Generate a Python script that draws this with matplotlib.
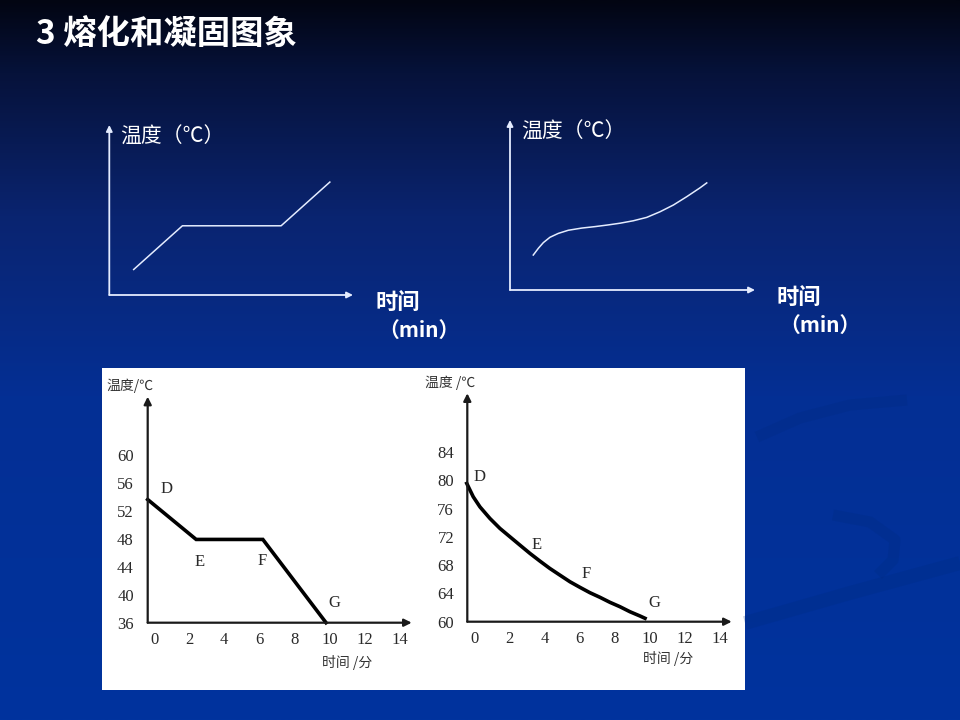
import matplotlib
matplotlib.use('Agg')
import matplotlib.pyplot as plt
import numpy as np
from matplotlib.patches import Rectangle

plt.rcParams['font.family'] = ['Noto Sans CJK SC', 'DejaVu Sans']

# ---- data ----
# top-left sketch: melting of a crystal (arbitrary units)
melt_t = [1.0, 3.0, 7.05, 9.05]
melt_T = [1.05, 2.85, 2.85, 4.65]

# top-right sketch: melting of an amorphous solid (arbitrary units)
amor_t = [0.95, 1.16, 1.36, 1.63, 1.97, 2.38, 2.93, 3.47, 4.01, 4.49, 5.03, 5.58, 6.12, 6.67, 7.21, 7.76, 8.03]
amor_T = [1.44, 1.72, 1.95, 2.17, 2.33, 2.46, 2.55, 2.61, 2.68, 2.75, 2.85, 2.99, 3.22, 3.50, 3.84, 4.21, 4.41]

# bottom-left: solidification, crystal
sol_t = [-0.36, 2.4, 6.2, 9.8]
sol_T = [53.6, 47.9, 47.9, 36.0]
sol_names = ['D', 'E', 'F', 'G']
sol_yticks = [36, 40, 44, 48, 52, 56, 60]

# bottom-right: solidification, amorphous
cool_t = [-0.43, -0.06, 0.32, 0.89, 1.46, 2.03, 2.60, 3.17, 3.74, 4.30, 4.87, 5.45,
          6.02, 6.59, 7.16, 7.73, 8.30, 8.87, 9.44, 9.73]
cool_T = [79.55, 77.66, 76.24, 74.60, 73.19, 72.01, 70.83, 69.66, 68.57, 67.54, 66.60, 65.65,
          64.86, 64.10, 63.45, 62.74, 62.12, 61.41, 60.81, 60.48]
cool_names = ['D', 'E', 'F', 'G']
cool_yticks = [60, 64, 68, 72, 76, 80, 84]

xticks = [0, 2, 4, 6, 8, 10, 12, 14]

# ---- figure and background ----
W, H = 960, 720
fig = plt.figure(figsize=(W / 100, H / 100), dpi=100)

bg = fig.add_axes([0, 0, 1, 1])
stops = np.array([0.0, 0.1, 0.3, 0.55, 1.0])
cols = np.array([[2, 5, 18], [6, 18, 58], [10, 36, 112], [4, 47, 148], [0, 51, 158]]) / 255
yy = np.linspace(0, 1, 400)
grad = np.stack([np.interp(yy, stops, cols[:, k]) for k in range(3)], axis=-1)
bg.imshow(grad[:, None, :], aspect='auto', extent=[0, W, H, 0])

# faint swooshes of the slide template
sw = dict(color='#00287a', alpha=0.22, solid_capstyle='butt')
bg.plot([757, 800, 850, 907], [437, 418, 405, 400], lw=8, **sw)
bg.plot([833, 870, 895, 893, 878], [515, 522, 540, 560, 575], lw=8, **sw)
bg.plot([745, 850, 960], [623, 593, 563], lw=10, **sw)
bg.set_xlim(0, W)
bg.set_ylim(H, 0)
bg.axis('off')

# white panel with the textbook charts
bg.add_patch(Rectangle((102, 368), 643, 322, facecolor='white', edgecolor='none'))


def px_axes(left, top, right, bottom):
    ax = fig.add_axes([left / W, 1 - bottom / H, (right - left) / W, (bottom - top) / H])
    ax.patch.set_alpha(0)
    for s in ax.spines.values():
        s.set_visible(False)
    return ax


def arrows(ax, color, lw, ms):
    kw = dict(arrowstyle='-|>', color=color, lw=lw, mutation_scale=ms, shrinkA=0, shrinkB=0)
    ax.annotate('', xy=(1, 0), xytext=(0, 0), xycoords='axes fraction', arrowprops=kw)
    ax.annotate('', xy=(0, 1), xytext=(0, 0), xycoords='axes fraction', arrowprops=kw)


def px_text(x, y, s, **kw):
    fig.text(x / W, 1 - y / H, s, **kw)


# title
px_text(36, 34, '3 熔化和凝固图象', fontsize=24, fontweight='bold', color='white', va='center')

# ---- top sketches ----
line_w = '#e4ecff'
ax1 = px_axes(109.3, 125, 353, 295)
ax1.plot(melt_t, melt_T, color=line_w, lw=1.1)
ax1.set_xlim(0, 10)
ax1.set_ylim(0, 7)
ax1.set_xticks([])
ax1.set_yticks([])
arrows(ax1, line_w, 1.3, 9)

ax2 = px_axes(510, 120, 755, 290)
ax2.plot(amor_t, amor_T, color=line_w, lw=1.1)
ax2.set_xlim(0, 10)
ax2.set_ylim(0, 7)
ax2.set_xticks([])
ax2.set_yticks([])
arrows(ax2, line_w, 1.3, 9)

for x0, y0 in [(120, 137), (521, 132)]:
    px_text(x0, y0, '温度（℃）', fontsize=15, color='white', va='center')
for cx, cy in [(398, 302), (799, 297)]:
    px_text(cx, cy, '时间', fontsize=16, fontweight='bold', color='white', va='center', ha='center')
for cx, cy in [(419, 330), (820, 325)]:
    px_text(cx, cy, '（min）', fontsize=15, fontweight='bold', color='white', va='center', ha='center')

# ---- bottom textbook charts ----
ink = '#1a1a1a'
tick_font = dict(family='Liberation Serif', size=12, color='#2a2a2a')

ax3 = px_axes(147.7, 396.7, 411.7, 622.7)
ax3.plot(sol_t, sol_T, color='black', lw=2.6, clip_on=False, solid_joinstyle='miter')
ax3.set_xlim(-0.36, 14.68)
ax3.set_ylim(36, 68.3)
sol_lab = [(0.72, 55.1), (2.62, 44.7), (6.14, 44.8), (10.27, 38.8)]
for name, (lx, ly) in zip(sol_names, sol_lab):
    ax3.text(lx, ly, name, ha='center', va='center', **tick_font)

ax4 = px_axes(467.3, 393.3, 731.7, 621.7)
ax4.plot(cool_t, cool_T, color='black', lw=2.6, clip_on=False)
ax4.set_xlim(-0.4, 14.67)
ax4.set_ylim(60, 92.3)
cool_lab = [(0.32, 80.5), (3.56, 70.8), (6.40, 66.8), (10.26, 62.7)]
for name, (lx, ly) in zip(cool_names, cool_lab):
    ax4.text(lx, ly, name, ha='center', va='center', **tick_font)

for ax, yt, ypad in [(ax3, sol_yticks, 10), (ax4, cool_yticks, 9.5)]:
    ax.set_xticks(xticks)
    ax.set_xticklabels([str(v) for v in xticks], fontdict=tick_font)
    ax.set_yticks(yt)
    ax.set_yticklabels([str(v) for v in yt], fontdict=tick_font)
    ax.tick_params(axis='x', length=0, pad=7)
    ax.tick_params(axis='y', length=0, pad=ypad)
    arrows(ax, ink, 1.6, 11)

px_text(106, 386, '温度/℃', fontsize=10, color='#333333', va='center')
px_text(425, 383, '温度 /℃', fontsize=10, color='#333333', va='center')
px_text(322, 663, '时间 /分', fontsize=10, color='#333333', va='center')
px_text(643, 658, '时间 /分', fontsize=10, color='#333333', va='center')

fig.savefig('out.png', dpi=100)
